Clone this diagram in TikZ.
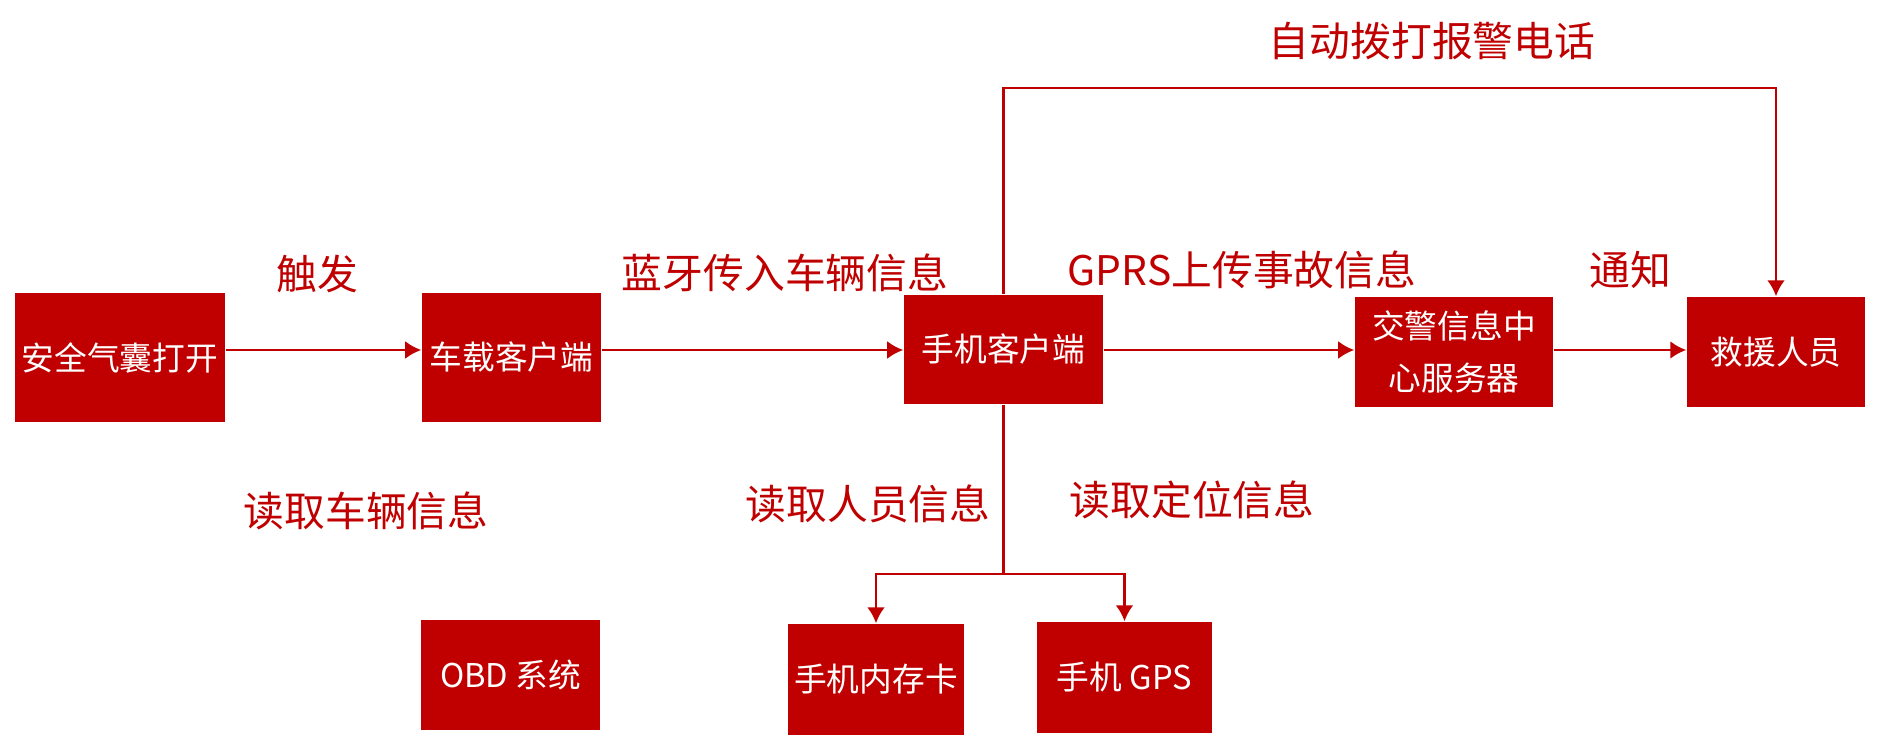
\documentclass[tikz,border=0pt]{standalone}
\usepackage{fontspec}
\setmainfont{Noto Sans CJK SC}
\usepackage{xcolor}
\usetikzlibrary{arrows.meta}
\definecolor{bg}{HTML}{FFFFFF}
\definecolor{boxred}{HTML}{C00000}
\definecolor{linered}{HTML}{C00000}
\definecolor{labred}{HTML}{C00000}
\tikzset{
  box/.style={rectangle, fill=boxred, text=white, inner sep=0pt, align=center, font=\fontsize{9.3}{15}\selectfont},
  arr/.style={draw=linered, line width=0.8pt, -{Latex[length=1.6mm,width=1.8mm]}},
  wire/.style={draw=linered, line width=0.6pt},
  lab/.style={text=labred, font=\fontsize{11.6}{14}\selectfont},
}

\begin{document}
\begin{tikzpicture}[x=0.01cm, y=-0.01cm]
  \useasboundingbox[fill=bg] (0,0) rectangle (1878,752);
  \coordinate (row) at (0,350);
  \coordinate (callbar) at (0,88);
  \coordinate (split) at (0,574);
  % top row
  \node[box, minimum width=2.10cm, minimum height=1.29cm] (airbag) at (120,357.5) {安全气囊打开};
  \node[box, minimum width=1.79cm, minimum height=1.29cm] (carclient) at (511.5,357.5) {车载客户端};
  \node[box, minimum width=1.99cm, minimum height=1.09cm] (phone) at (1003.5,349.5) {手机客户端};
  \node[box, minimum width=1.98cm, minimum height=1.10cm] (police) at (1454,352) {交警信息中\\心服务器};
  \node[box, minimum width=1.78cm, minimum height=1.10cm] (rescue) at (1776,352) {救援人员};
  % bottom row
  \node[box, minimum width=1.79cm, minimum height=1.10cm] (obd) at (510.5,675) {OBD 系统};
  \node[box, minimum width=1.76cm, minimum height=1.11cm] (card) at (876,679.5) {手机内存卡};
  \node[box, minimum width=1.75cm, minimum height=1.11cm] (gps) at (1124.5,677.5) {手机 GPS};
  % connectors
  \draw[arr] (airbag.east |- row) -- (carclient.west |- row);
  \draw[arr] (carclient.east |- row) -- (phone.west |- row);
  \draw[arr] (phone.east |- row) -- (police.west |- row);
  \draw[arr] (police.east |- row) -- (rescue.west |- row);
  \draw[arr] (phone.north) -- (phone.north |- callbar) -| (rescue.north);
  \draw[wire] (phone.south) -- (phone.south |- split);
  \draw[arr] (phone.south |- split) -| (card.north);
  \draw[arr] (phone.south |- split) -| (gps.north);
  % labels
  \node[lab] (call) at (1432,41) {自动拨打报警电话};
  \node[lab] (trig) at (317,274) {触发};
  \node[lab] (bt) at (785,273) {蓝牙传入车辆信息};
  \node[lab] (gprs) at (1242,270) {GPRS上传事故信息};
  \node[lab] (notify) at (1630,270) {通知};
  \node[lab] (readcar) at (366,511) {读取车辆信息};
  \node[lab] (readuser) at (868,504) {读取人员信息};
  \node[lab] (readpos) at (1192,500) {读取定位信息};
\end{tikzpicture}
\end{document}
